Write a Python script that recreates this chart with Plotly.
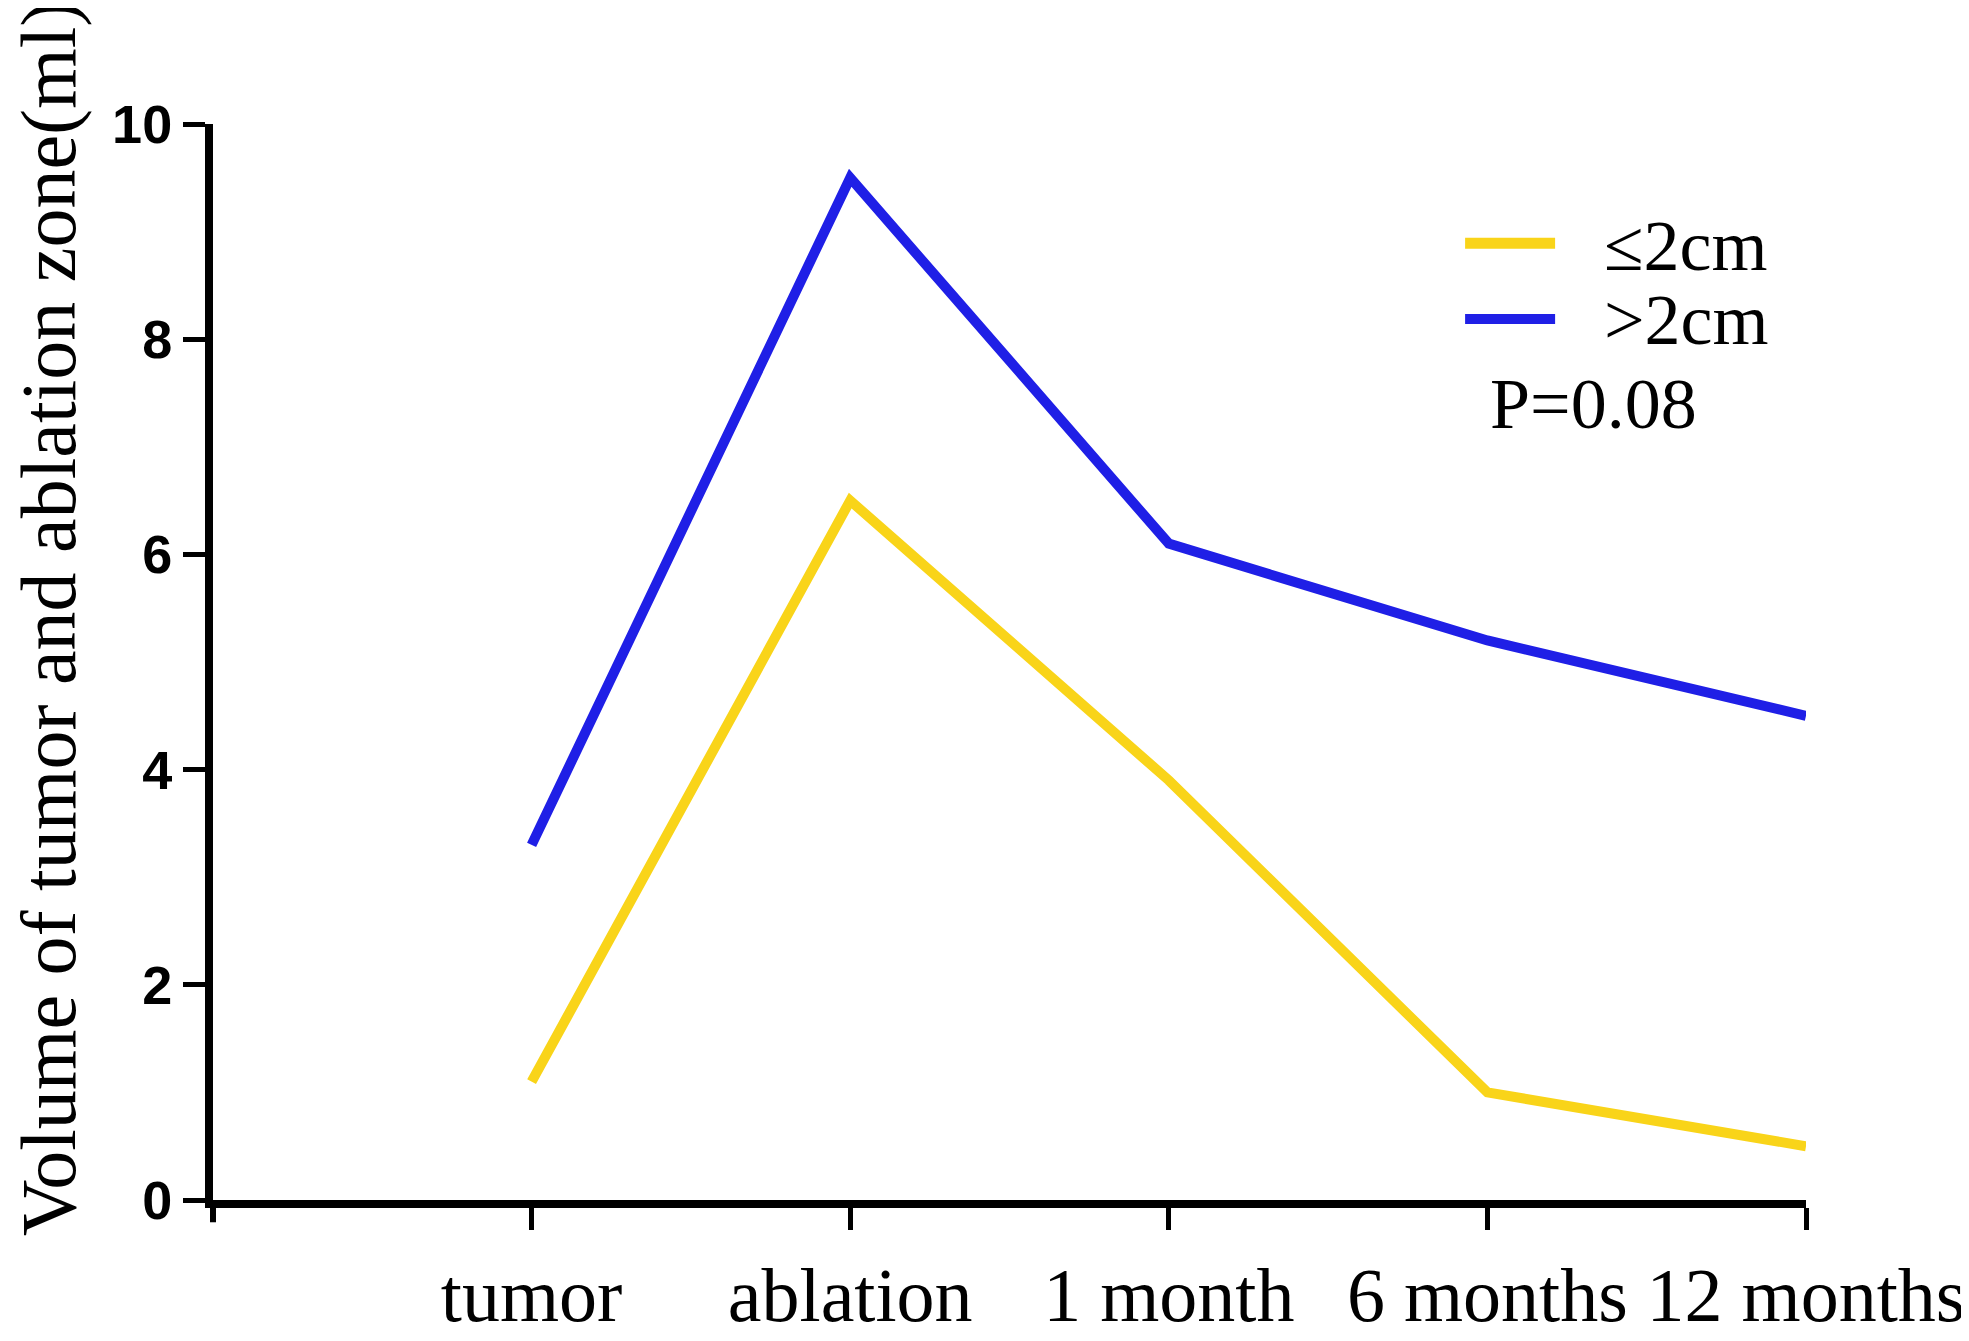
import plotly.graph_objects as go

# ---- data ----
time_points = ["tumor", "ablation", "1 month", "6 months", "12 months"]
small_name = "≤2cm"
small_volume = [1.1, 6.5, 3.9, 1.0, 0.5]
large_name = ">2cm"
large_volume = [3.3, 9.5, 6.1, 5.2, 4.5]
p_text = "P=0.08"
y_ticks = [0, 2, 4, 6, 8, 10]
y_title = "Volume of tumor and ablation zone(ml)"

YELLOW = "#f9d419"
BLUE = "#1f1fe6"
SERIF = "Liberation Serif, Times New Roman, serif"
SANS = "Liberation Sans, Arial, sans-serif"

fig = go.Figure()

fig.add_trace(go.Scatter(x=time_points, y=small_volume, mode="lines",
                         name=small_name, line=dict(color=YELLOW, width=10)))
fig.add_trace(go.Scatter(x=time_points, y=large_volume, mode="lines",
                         name=large_name, line=dict(color=BLUE, width=10)))

fig.update_xaxes(
    type="category", range=[-1, len(time_points) - 1],
    showline=True, linecolor="black", linewidth=8,
    ticks="outside", ticklen=22, tickwidth=5, tickcolor="black",
    tickfont=dict(family=SERIF, size=76, color="black"),
    showgrid=False, zeroline=False,
)
fig.update_yaxes(
    range=[0, 10], tickvals=y_ticks,
    showline=True, linecolor="black", linewidth=8,
    ticks="outside", ticklen=22, tickwidth=5, tickcolor="black",
    tickfont=dict(family=SANS, size=54, color="black", weight="bold"),
    showgrid=False, zeroline=False,
)

# hand-made legend: sample lines + labels
shapes = [
    dict(type="line", xref="paper", yref="paper", x0=0.786, x1=0.8425, y0=0.8891, y1=0.8891,
         line=dict(color=YELLOW, width=11)),
    dict(type="line", xref="paper", yref="paper", x0=0.786, x1=0.8425, y0=0.8188, y1=0.8188,
         line=dict(color=BLUE, width=10)),
    # tick at the origin of the x axis (runs below the corner)
    dict(type="line", xref="paper", yref="paper", x0=0, x1=0, y0=0, y1=-0.0207,
         line=dict(color="black", width=6)),
]

annotations = [
    dict(text=small_name, xref="paper", yref="paper", x=0.872, y=0.8864,
         xanchor="left", yanchor="middle", showarrow=False,
         font=dict(family=SERIF, size=72, color="black")),
    dict(text=large_name, xref="paper", yref="paper", x=0.872, y=0.8179,
         xanchor="left", yanchor="middle", showarrow=False,
         font=dict(family=SERIF, size=72, color="black")),
    dict(text=p_text, xref="paper", yref="paper", x=0.8005, y=0.7394,
         xanchor="left", yanchor="middle", showarrow=False,
         font=dict(family=SERIF, size=72, color="black")),
    dict(text=y_title, xref="paper", yref="paper", x=-0.1317, y=0.5405,
         xanchor="left", yanchor="middle", textangle=-90, showarrow=False,
         font=dict(family=SERIF, size=78, color="black")),
]

fig.update_layout(
    width=1969, height=1341,
    margin=dict(l=205, r=170, t=116, b=116),
    paper_bgcolor="white", plot_bgcolor="white",
    showlegend=False,
    shapes=shapes, annotations=annotations,
)

fig.write_html("out.html")
